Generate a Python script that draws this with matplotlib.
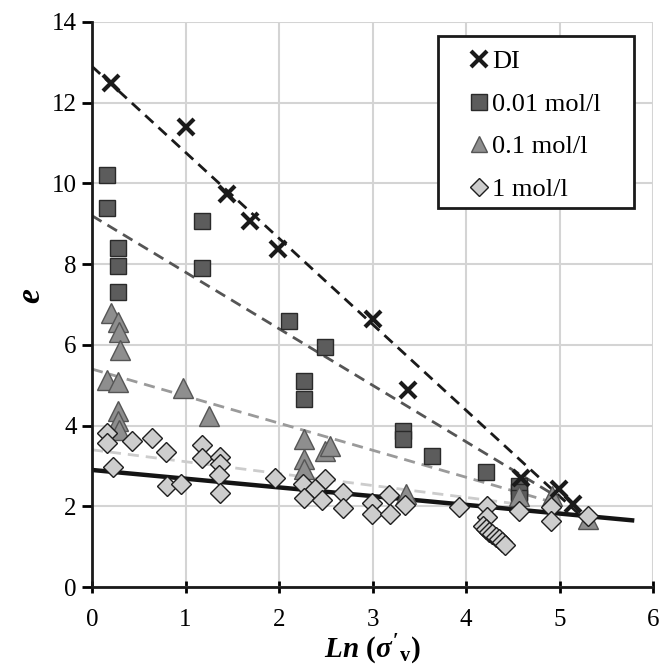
import numpy as np
import matplotlib
matplotlib.use('Agg')
from matplotlib import pyplot as plt
from matplotlib.lines import Line2D
from matplotlib.patches import Rectangle

plt.rcParams['font.family'] = ['Liberation Serif', 'DejaVu Serif']
plt.rcParams['mathtext.fontset'] = 'custom'
plt.rcParams['mathtext.rm'] = 'Liberation Serif:bold'
plt.rcParams['mathtext.it'] = 'Liberation Serif:bold:italic'
plt.rcParams['mathtext.bf'] = 'Liberation Serif:bold'

# Serie DI
x_di = [0.20, 1.00, 1.44, 1.69, 1.99, 3.00, 3.38, 4.59, 4.99, 5.14]
e_di = [12.50, 11.40, 9.75, 9.06, 8.38, 6.65, 4.87, 2.71, 2.42, 2.06]

# Serie 0.01 mol/l
x_001 = [0.16, 0.16, 0.28, 0.28, 0.28, 1.18, 1.18, 2.11, 2.49, 2.27, 2.27,
         3.33, 3.33, 3.64, 4.21, 4.57, 4.57, 4.57]
e_001 = [10.20, 9.38, 8.40, 7.95, 7.32, 9.08, 7.90, 6.60, 5.94, 5.10, 4.66,
         3.86, 3.66, 3.25, 2.86, 2.50, 2.35, 2.20]

# Serie 0.1 mol/l
x_01 = [0.20, 0.28, 0.29, 0.30, 0.16, 0.28, 0.97, 1.25, 0.28, 0.28, 0.29,
        2.27, 2.49, 2.55, 2.27, 2.27, 3.36, 4.57, 4.92, 5.30]
e_01 = [6.80, 6.57, 6.31, 5.87, 5.13, 5.08, 4.93, 4.23, 4.37, 4.11, 3.90,
        3.66, 3.37, 3.49, 3.16, 2.92, 2.30, 2.26, 2.26, 1.68]

# Serie 1 mol/l
x_1 = [0.16, 0.16, 0.43, 0.64, 0.79, 0.22, 1.18, 1.18, 1.37, 1.37, 1.36,
       1.37, 0.80, 0.95, 1.96, 2.26, 2.49, 2.38, 2.27, 2.46, 2.68, 2.68,
       2.99, 2.99, 3.18, 3.19, 3.35, 3.93, 4.22, 4.22, 4.57, 4.91, 4.91,
       5.30, 4.18, 4.21, 4.25, 4.28, 4.32, 4.35, 4.39, 4.42]
e_1 = [3.82, 3.57, 3.62, 3.70, 3.35, 2.97, 3.53, 3.19, 3.22, 3.04, 2.78,
       2.34, 2.51, 2.55, 2.69, 2.56, 2.67, 2.44, 2.20, 2.15, 2.32, 1.95,
       2.07, 1.81, 2.28, 1.81, 2.04, 1.99, 2.01, 1.74, 1.89, 1.97, 1.64,
       1.77, 1.50, 1.44, 1.37, 1.31, 1.24, 1.18, 1.11, 1.05]

# Lineas de tendencia: ordenada, pendiente, x inicial, x final
tend_di = [12.9, -2.13, 0.0, 5.2]
tend_001 = [9.2, -1.40, 0.0, 5.0]
tend_01 = [5.4, -0.67, 0.0, 5.0]
tend_1 = [3.4, -0.295, 0.0, 4.6]
recta_base = [2.9, -0.216, 0.0, 5.8]

etiquetas = ['DI', '0.01 mol/l', '0.1 mol/l', '1 mol/l']

fig = plt.figure(figsize=(6.70, 6.68), dpi=100)
ax = fig.add_axes([92 / 670, 1 - 587 / 668, 561 / 670, 565 / 668])


def dibujar_tendencia(ax, coef, color, grosor, discontinua=True):
    x = np.array([coef[2], coef[3]])
    linea, = ax.plot(x, coef[0] + coef[1] * x, color=color, linewidth=grosor,
                     zorder=2, solid_capstyle='butt')
    if discontinua:
        linea.set_dashes((4, 2.5))


dibujar_tendencia(ax, tend_di, '#1a1a1a', 2.0)
dibujar_tendencia(ax, tend_001, '#555555', 2.0)
dibujar_tendencia(ax, tend_01, '#9a9a9a', 2.0)
dibujar_tendencia(ax, tend_1, '#cccccc', 2.0)
dibujar_tendencia(ax, recta_base, '#141414', 3.2, discontinua=False)

estilo_001 = dict(marker='s', ms=11.5, mfc='#5c5c5c', mec='#2a2a2a', mew=1.0)
estilo_01 = dict(marker='^', ms=14, mfc='#8e8e8e', mec='#555555', mew=1.0)
estilo_1 = dict(marker='D', ms=10.5, mfc='#cdcdcd', mec='#1e1e1e', mew=1.0)
estilo_di = dict(marker='x', ms=12, mec='#1a1a1a', mew=3.0)

ax.plot(x_001, e_001, ls='none', zorder=3, **estilo_001)
ax.plot(x_01, e_01, ls='none', zorder=4, **estilo_01)
ax.plot(x_1, e_1, ls='none', zorder=5, **estilo_1)
ax.plot(x_di, e_di, ls='none', zorder=6, **estilo_di)

ax.set_xlim(0, 6)
ax.set_ylim(0, 14)
ax.set_xticks(range(0, 7))
ax.set_yticks(range(0, 15, 2))
ax.grid(True, color='#d4d4d4', linewidth=1.5)
ax.set_axisbelow(True)
for lado in ['top', 'right']:
    ax.spines[lado].set_visible(False)
for lado in ['left', 'bottom']:
    ax.spines[lado].set_linewidth(2.0)
    ax.spines[lado].set_color('#1a1a1a')
ax.tick_params(axis='x', direction='inout', length=9, width=2, labelsize=18, pad=11)
ax.tick_params(axis='y', direction='out', length=7, width=2, labelsize=18, pad=4)

ax.set_ylabel(r'$e$', fontsize=24)
ax.yaxis.set_label_coords(-0.08, 0.515)
ax.set_xlabel(r"$Ln\ (\sigma'_{\rm v})$", fontsize=21)
ax.xaxis.set_label_coords(0.50, -0.082)

# Leyenda con marco dibujado aparte
marco = Rectangle((438 / 670, 1 - 208 / 668), 196 / 670, 172 / 668,
                  transform=fig.transFigure, facecolor='white',
                  edgecolor='#1a1a1a', linewidth=2.0, zorder=7)
fig.patches.append(marco)

handles = [Line2D([], [], ls='none', **estilo) for estilo in
           [estilo_di, estilo_001,
            dict(estilo_01, ms=12), dict(estilo_1, ms=9)]]
leg = fig.legend(handles, etiquetas, loc='upper left',
                 bbox_to_anchor=(468 / 670, 1 - 50 / 668),
                 fontsize=19, frameon=False, handlelength=0.8,
                 handletextpad=0.1, labelspacing=0.72, borderpad=0,
                 borderaxespad=0)
leg.set_zorder(8)

plt.savefig('out.png', dpi=100)
